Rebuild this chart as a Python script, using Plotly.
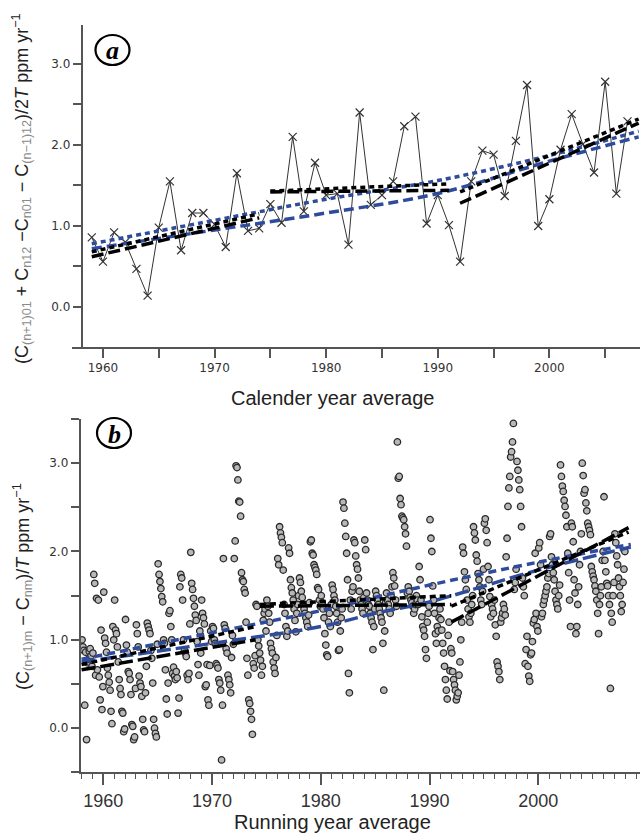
import plotly.graph_objects as go

W, H = 640, 834

# ---------------- Panel (a): calendar-year average growth rate ----------------
cal_years = list(range(1959, 2008))
cal_rate = [0.86, 0.56, 0.92, 0.80, 0.47, 0.14, 0.98, 1.55, 0.70, 1.16,
            1.16, 1.02, 0.74, 1.65, 0.94, 0.97, 1.27, 1.04, 2.10, 1.18,
            1.78, 1.38, 1.40, 0.77, 2.40, 1.26, 1.38, 1.55, 2.23, 2.35,
            1.03, 1.38, 1.01, 0.56, 1.55, 1.93, 1.88, 1.37, 2.05, 2.74,
            1.00, 1.33, 1.94, 2.38, 2.01, 1.66, 2.78, 1.40, 2.29]

# piecewise linear fits (start, end years and values)
a_seg_years = [[1959, 1974], [1975, 1991], [1992, 2008]]
a_fit_long = [[0.62, 1.10], [1.42, 1.44], [1.28, 2.27]]
a_fit_short = [[0.68, 1.15], [1.43, 1.52], [1.42, 2.32]]

# smooth fits over the whole period
a_blue_years = [1959, 1970, 1980, 1990, 2000, 2008]
a_blue_upper = [0.78, 1.07, 1.33, 1.56, 1.87, 2.17]
a_blue_lower = [0.72, 0.95, 1.16, 1.40, 1.80, 2.10]

# ---------------- Panel (b): running-year average growth rate ----------------
run_start_year = 1958
run_rate = [
    [1.00, 0.92, 0.88, 0.26, 0.86, -0.13, 0.74, 0.78, 0.87, 0.90, 0.82, 0.70],  # 1958
    [0.85, 1.74, 1.64, 0.60, 1.47, 0.66, 1.45, 0.58, 0.32, 1.11, 0.21, 0.47],  # 1959
    [1.54, 1.02, 0.96, 0.86, 0.68, 0.60, 0.52, 0.43, 0.19, 0.05, 1.15, 1.00],  # 1960
    [1.45, 1.11, 1.07, 0.92, 0.75, 0.55, 0.45, 0.38, 0.19, 0.17, -0.04, -0.01],  # 1961
    [1.23, 0.94, 0.86, 0.64, 0.62, 0.55, 0.38, 0.04, 0.02, -0.13, -0.10, 0.45],  # 1962
    [1.17, 1.07, 0.92, 0.59, 0.51, 0.47, 0.36, 0.10, -0.02, -0.04, 0.40, 0.70],  # 1963
    [1.19, 1.15, 1.11, 1.07, 0.88, 0.79, 0.51, 0.10, 0.00, -0.06, -0.10, 0.95],  # 1964
    [1.86, 1.74, 1.66, 1.58, 1.49, 1.43, 1.00, 0.96, 0.66, 0.33, 0.16, 0.51],  # 1965
    [1.30, 1.33, 1.15, 1.00, 0.62, 0.69, 0.59, 0.55, 0.64, 0.57, 0.17, 0.34],  # 1966
    [1.60, 1.74, 1.70, 1.45, 1.00, 0.88, 0.85, 0.81, 0.60, 0.55, 0.62, 1.18],  # 1967
    [1.99, 1.64, 1.57, 1.47, 1.38, 1.28, 1.22, 0.98, 0.72, 0.60, 1.10, 0.85],  # 1968
    [1.45, 1.30, 1.25, 1.18, 0.47, 0.49, 0.72, 0.32, 0.26, 0.71, 1.10, 0.98],  # 1969
    [1.15, 1.13, 1.00, 0.96, 0.73, 0.71, 0.68, 0.55, 0.51, 0.43, -0.36, 0.26],  # 1970
    [1.92, 1.17, 1.13, 0.90, 0.85, 0.60, 0.55, 0.49, 0.40, 0.80, 1.05, 0.95],  # 1971
    [1.92, 2.12, 2.97, 2.95, 2.81, 2.57, 2.56, 2.40, 1.76, 1.68, 1.66, 1.57],  # 1972
    [1.53, 1.20, 0.79, 0.60, 0.32, 0.28, 0.19, 0.10, -0.07, 0.73, 0.68, 0.82],  # 1973
    [1.40, 1.38, 1.00, 0.93, 0.85, 0.77, 0.60, 0.70, 1.22, 1.30, 1.35, 1.10],  # 1974
    [1.45, 1.38, 1.30, 1.20, 0.96, 0.90, 0.85, 0.75, 0.68, 0.62, 0.80, 1.05],  # 1975
    [1.92, 1.85, 2.28, 2.21, 2.16, 2.10, 1.79, 1.40, 1.30, 1.15, 1.04, 1.10],  # 1976
    [2.04, 1.98, 1.68, 1.59, 1.53, 1.45, 1.35, 1.22, 1.09, 1.30, 1.40, 1.50],  # 1977
    [1.70, 1.65, 1.55, 1.48, 1.40, 1.35, 1.30, 1.25, 1.20, 1.15, 1.28, 1.42],  # 1978
    [2.11, 2.13, 1.98, 1.96, 1.85, 1.82, 1.79, 1.74, 1.59, 1.57, 1.45, 1.38],  # 1979
    [1.50, 1.42, 1.35, 1.25, 1.07, 0.94, 0.83, 0.81, 1.20, 1.30, 1.15, 1.40],  # 1980
    [1.62, 1.57, 1.50, 1.45, 1.38, 1.30, 1.20, 0.88, 0.89, 1.10, 1.25, 1.35],  # 1981
    [2.56, 2.49, 2.32, 2.17, 1.98, 1.68, 0.62, 0.40, 1.45, 1.35, 1.55, 1.60],  # 1982
    [2.13, 2.10, 1.95, 1.85, 1.80, 1.70, 1.55, 1.45, 1.40, 1.35, 1.30, 1.48],  # 1983
    [2.13, 2.02, 1.53, 1.45, 1.40, 1.38, 1.30, 1.25, 1.20, 0.89, 1.15, 1.35],  # 1984
    [1.55, 1.50, 1.45, 1.40, 1.35, 1.30, 1.25, 1.20, 0.96, 0.43, 1.10, 1.42],  # 1985
    [1.53, 1.45, 1.40, 1.35, 1.30, 1.50, 1.60, 1.76, 1.70, 1.61, 1.45, 1.38],  # 1986
    [3.24, 2.83, 2.85, 2.60, 2.53, 2.40, 2.38, 2.36, 2.28, 2.20, 2.06, 1.53],  # 1987
    [1.60, 1.55, 1.48, 1.45, 1.42, 1.38, 1.30, 1.35, 1.40, 1.50, 1.45, 1.40],  # 1988
    [1.83, 1.68, 1.45, 1.26, 1.15, 1.11, 1.04, 0.89, 0.79, 1.20, 1.30, 1.38],  # 1989
    [2.36, 2.15, 2.00, 1.61, 1.45, 1.30, 1.07, 0.96, 1.15, 1.10, 1.25, 1.35],  # 1990
    [1.23, 1.11, 0.96, 0.85, 0.70, 0.55, 0.43, 0.33, 1.05, 1.20, 0.65, 0.90],  # 1991
    [0.85, 0.64, 0.55, 0.49, 0.43, 0.32, 0.36, 0.40, 0.60, 0.75, 1.00, 1.20],  # 1992
    [2.05, 1.98, 1.77, 1.68, 1.57, 1.45, 1.35, 1.26, 1.20, 1.30, 1.40, 1.50],  # 1993
    [2.28, 2.21, 2.13, 1.96, 1.89, 1.75, 1.68, 1.60, 1.45, 1.40, 1.55, 1.80],  # 1994
    [2.32, 2.37, 2.24, 2.10, 1.83, 1.68, 1.49, 1.26, 1.40, 1.35, 1.30, 1.45],  # 1995
    [1.17, 1.04, 0.75, 0.70, 0.64, 0.55, 1.20, 1.25, 1.30, 1.40, 1.35, 1.28],  # 1996
    [1.94, 2.15, 2.51, 2.72, 2.85, 3.07, 3.13, 3.24, 3.45, 1.57, 1.65, 1.80],  # 1997
    [3.02, 2.92, 2.81, 2.70, 2.51, 2.28, 1.70, 1.60, 1.50, 0.73, 0.89, 1.04],  # 1998
    [0.70, 0.59, 0.53, 0.83, 0.85, 0.98, 1.19, 1.23, 1.98, 1.30, 1.15, 1.10],  # 1999
    [2.04, 2.10, 1.85, 1.26, 1.30, 1.40, 1.45, 1.50, 1.55, 1.60, 1.70, 1.75],  # 2000
    [2.17, 2.20, 1.94, 1.85, 1.76, 1.68, 1.55, 1.45, 1.40, 1.35, 1.50, 1.62],  # 2001
    [2.98, 2.85, 2.74, 2.68, 2.58, 2.51, 2.41, 2.28, 1.98, 1.76, 1.45, 1.15],  # 2002
    [2.32, 2.28, 2.11, 1.68, 1.53, 1.07, 1.15, 1.40, 1.60, 1.85, 2.00, 2.20],  # 2003
    [3.00, 2.86, 2.66, 2.70, 2.55, 2.46, 2.32, 2.28, 2.24, 2.19, 1.83, 1.77],  # 2004
    [1.72, 1.68, 1.61, 1.55, 1.45, 1.30, 1.07, 1.40, 1.50, 1.60, 1.90, 2.00],  # 2005
    [2.62, 1.90, 1.77, 1.64, 1.61, 1.50, 1.40, 0.45, 1.30, 1.20, 1.50, 1.65],  # 2006
    [2.20, 2.10, 1.95, 1.85, 1.70, 1.60, 1.50, 1.32, 1.40, 1.65, 1.80, 2.00],  # 2007
]

b_seg_years = [[1958, 1974], [1974.4, 1992], [1992, 2008.3]]
b_fit_long = [[0.66, 1.00], [1.38, 1.40], [1.20, 2.27]]
b_fit_short = [[0.72, 1.15], [1.40, 1.50], [1.38, 2.22]]

b_blue_years = [1958, 1970, 1980, 1985, 1990, 2000, 2008.5]
b_blue_upper = [0.78, 1.08, 1.33, 1.48, 1.62, 1.88, 2.08]
b_blue_lower = [0.75, 0.96, 1.15, 1.30, 1.43, 1.79, 2.05]

BLUE = "#2f4c9c"
AX = "#555555"
TXT = "#333333"

fig = go.Figure()

# ---- panel (a) traces ----
fig.add_trace(go.Scatter(x=cal_years, y=cal_rate, mode="lines+markers",
                         line=dict(color="#333333", width=1),
                         marker=dict(symbol="x-thin-open", size=8,
                                     line=dict(color="#333333", width=1.2)),
                         xaxis="x", yaxis="y"))
fig.add_trace(go.Scatter(x=a_blue_years, y=a_blue_upper, mode="lines",
                         line=dict(color=BLUE, width=3.5, dash="5px,4px", shape="spline"),
                         xaxis="x", yaxis="y"))
fig.add_trace(go.Scatter(x=a_blue_years, y=a_blue_lower, mode="lines",
                         line=dict(color=BLUE, width=3.5, dash="10px,5px", shape="spline"),
                         xaxis="x", yaxis="y"))
for yrs, v in zip(a_seg_years, a_fit_short):
    fig.add_trace(go.Scatter(x=yrs, y=v, mode="lines",
                             line=dict(color="black", width=3.5, dash="5px,4px"),
                             xaxis="x", yaxis="y"))
for yrs, v in zip(a_seg_years, a_fit_long):
    fig.add_trace(go.Scatter(x=yrs, y=v, mode="lines",
                             line=dict(color="black", width=3.5, dash="12px,5px"),
                             xaxis="x", yaxis="y"))

# ---- panel (b) traces ----
run_x, run_y = [], []
for i, row in enumerate(run_rate):
    yr = run_start_year + i
    for m, val in enumerate(row):
        run_x.append(yr + (m + 0.5) / 12.0)
        run_y.append(val)

fig.add_trace(go.Scatter(x=run_x, y=run_y, mode="markers",
                         marker=dict(symbol="circle", size=6.5, color="#b8b8b8",
                                     line=dict(color="#2a2a2a", width=1.3)),
                         xaxis="x2", yaxis="y2"))
fig.add_trace(go.Scatter(x=b_blue_years, y=b_blue_upper, mode="lines",
                         line=dict(color=BLUE, width=3.5, dash="8px,5px", shape="spline"),
                         xaxis="x2", yaxis="y2"))
fig.add_trace(go.Scatter(x=b_blue_years, y=b_blue_lower, mode="lines",
                         line=dict(color=BLUE, width=3.5, dash="14px,5px", shape="spline"),
                         xaxis="x2", yaxis="y2"))
for yrs, v in zip(b_seg_years, b_fit_short):
    fig.add_trace(go.Scatter(x=yrs, y=v, mode="lines",
                             line=dict(color="black", width=3.5, dash="6px,4px"),
                             xaxis="x2", yaxis="y2"))
for yrs, v in zip(b_seg_years, b_fit_long):
    fig.add_trace(go.Scatter(x=yrs, y=v, mode="lines",
                             line=dict(color="black", width=3.5, dash="14px,5px"),
                             xaxis="x2", yaxis="y2"))

tickfont_small = dict(family="DejaVu Sans", size=12, color=TXT)

fig.update_layout(
    width=W, height=H, margin=dict(l=0, r=0, t=0, b=0),
    paper_bgcolor="white", plot_bgcolor="white", showlegend=False,
    xaxis=dict(domain=[71.7 / W, 1.0], range=[1957.2, 2008.12], anchor="y",
               showline=True, linecolor=AX, linewidth=2, showgrid=False, zeroline=False,
               tickmode="linear", tick0=1960, dtick=10, ticks="outside", ticklen=9,
               tickwidth=1.5, tickcolor=AX, tickfont=tickfont_small,
               minor=dict(tick0=1960, dtick=5, ticks="outside", ticklen=9,
                          tickwidth=1.5, tickcolor=AX, showgrid=False)),
    yaxis=dict(domain=[1 - 346.7 / H, 1 - 25 / H], range=[-0.49, 3.48],
               anchor="free", position=81.7 / W,
               showline=True, linecolor=AX, linewidth=2, showgrid=False, zeroline=False,
               tickmode="linear", tick0=0, dtick=1, tickformat=".1f",
               ticks="outside", ticklen=8, tickwidth=1.5, tickcolor=AX,
               tickfont=tickfont_small,
               minor=dict(tick0=0, dtick=0.5, ticks="outside", ticklen=8,
                          tickwidth=1.5, tickcolor=AX, showgrid=False)),
    xaxis2=dict(domain=[80.7 / W, 1.0], range=[1957.92, 2009.35], anchor="y2",
                showline=True, linecolor=AX, linewidth=2, showgrid=False, zeroline=False,
                tickmode="linear", tick0=1960, dtick=10, ticks="outside", ticklen=11,
                tickwidth=1.5, tickcolor=AX,
                tickfont=dict(family="Liberation Sans", size=18, color=TXT),
                minor=dict(tick0=1960, dtick=1, ticks="outside", ticklen=5,
                           tickwidth=1.3, tickcolor=AX, showgrid=False)),
    yaxis2=dict(domain=[1 - 772.3 / H, 1 - 419 / H], range=[-0.5, 3.5], anchor="x2",
                showline=True, linecolor=AX, linewidth=2, showgrid=False, zeroline=False,
                tickmode="linear", tick0=0, dtick=1, tickformat=".1f",
                ticks="outside", ticklen=8, tickwidth=1.5, tickcolor=AX,
                tickfont=tickfont_small,
                minor=dict(tick0=0, dtick=0.5, ticks="outside", ticklen=8,
                           tickwidth=1.5, tickcolor=AX, showgrid=False)),
)

G = '<span style="color:#8a8a8a">'
title_a = ("(C<sub>" + G + "(n+1)01</span></sub> + C<sub>" + G + "n12</span></sub> "
           "\u2212C<sub>" + G + "n01</span></sub> \u2212 C<sub>" + G + "(n\u22121)12</span></sub>)"
           "/2<i>T</i> ppm yr<sup>\u22121</sup>")
title_b = ("(C<sub>" + G + "(n+1)m</span></sub> \u2212 C<sub>" + G + "nm</span></sub>)"
           "/<i>T</i> ppm yr<sup>\u22121</sup>")

ann_font = dict(family="Liberation Sans", size=18, color="#222222")
fig.add_annotation(x=21 / W, y=1 - 189 / H, xref="paper", yref="paper", text=title_a,
                   textangle=-90, showarrow=False, font=ann_font,
                   xanchor="center", yanchor="middle")
fig.add_annotation(x=22 / W, y=1 - 587 / H, xref="paper", yref="paper", text=title_b,
                   textangle=-90, showarrow=False, font=ann_font,
                   xanchor="center", yanchor="middle")
fig.add_annotation(x=332 / W, y=1 - 398 / H, xref="paper", yref="paper",
                   text="Calender year average", showarrow=False,
                   xanchor="center", yanchor="middle",
                   font=dict(family="Liberation Sans", size=20, color="#222222"))
fig.add_annotation(x=332 / W, y=1 - 822 / H, xref="paper", yref="paper",
                   text="Running year average", showarrow=False,
                   xanchor="center", yanchor="middle",
                   font=dict(family="Liberation Sans", size=20, color="#222222"))

# panel letters in circles
for cx, cy, letter in [(112.5, 50, "a"), (114, 433, "b")]:
    fig.add_shape(type="circle", xref="paper", yref="paper",
                  x0=(cx - 17) / W, x1=(cx + 17) / W,
                  y0=1 - (cy + 15) / H, y1=1 - (cy - 15) / H,
                  line=dict(color="black", width=2.2), fillcolor="white")
    fig.add_annotation(x=cx / W, y=1 - (cy + 1) / H, xref="paper", yref="paper",
                       text="<b><i>" + letter + "</i></b>", showarrow=False,
                       xanchor="center", yanchor="middle",
                       font=dict(family="Liberation Serif", size=26, color="black"))

fig.write_html("out.html")
